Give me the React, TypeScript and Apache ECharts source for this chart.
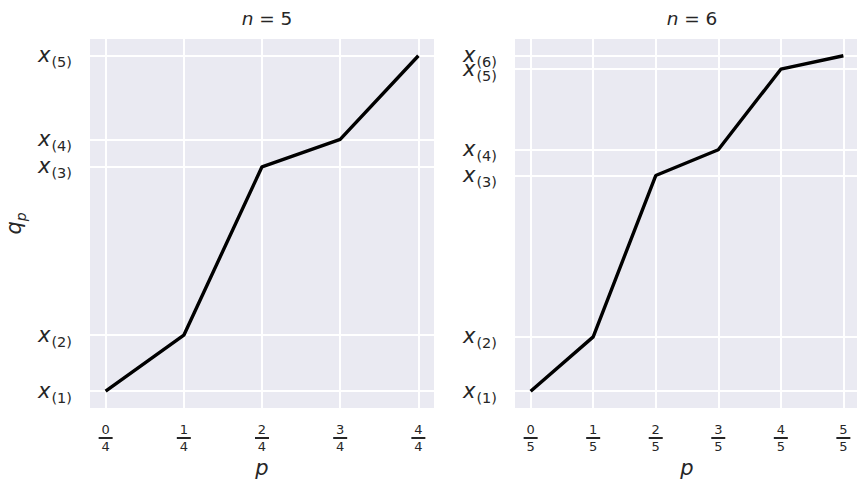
import React, { useEffect, useRef } from "react";
import * as echarts from "echarts";

// Left panel (n = 5): sorted sample values (arbitrary units)
const leftP = [0, 0.25, 0.5, 0.75, 1];
const leftQ = [0, 1.67, 6.69, 7.51, 10];
// Right panel (n = 6)
const rightP = [0, 0.2, 0.4, 0.6, 0.8, 1];
const rightQ = [0, 1.62, 6.43, 7.2, 9.6, 10];

const leftTitle = "5";
const rightTitle = "6";

const FONT = "DejaVu Sans";
const TXT = "#262626";
const BG = "#EAEAF2";

function yRich() {
  return {
    x: { fontFamily: FONT, fontStyle: "italic", fontSize: 21, color: TXT, verticalAlign: "bottom", lineHeight: 20 },
    s: { fontFamily: FONT, fontSize: 14.5, color: TXT, verticalAlign: "bottom", lineHeight: 14, padding: [0, 0, -4, 1] },
  };
}

function xRich() {
  return {
    n: { fontFamily: FONT, fontSize: 13, color: TXT, lineHeight: 13, align: "center" },
    b: { width: 14, height: 2, backgroundColor: TXT, fontSize: 1, lineHeight: 4, align: "center" },
    d: { fontFamily: FONT, fontSize: 13, color: TXT, lineHeight: 13, align: "center" },
  };
}

function makeXAxis(idx: number, ps: number[]) {
  const N = ps.length - 1;
  return {
    type: "value",
    gridIndex: idx,
    min: -0.05,
    max: 1.05,
    axisLine: { show: false },
    axisTick: { show: false, customValues: ps },
    splitLine: { show: true, lineStyle: { color: "#ffffff", width: 2 } },
    axisLabel: {
      customValues: ps,
      margin: 15,
      hideOverlap: false,
      showMinLabel: true,
      showMaxLabel: true,
      formatter: (v: number) => `{n|${Math.round(v * N)}}\n{b| }\n{d|${N}}`,
      rich: xRich(),
    },
    name: "p",
    nameLocation: "middle",
    nameGap: 48,
    nameTextStyle: { fontFamily: FONT, fontStyle: "italic", fontSize: 21, color: TXT },
  };
}

function labelFor(qs: number[], v: number) {
  let i = 0;
  let best = Infinity;
  qs.forEach((q, k) => {
    const d = Math.abs(q - v);
    if (d < best) { best = d; i = k; }
  });
  return `{x|x}{s|(${i + 1})}`;
}

function makeYAxis(idx: number, qs: number[], shown: number[], withName: boolean, grid: boolean) {
  return {
    type: "value",
    gridIndex: idx,
    min: -0.5,
    max: 10.5,
    position: "left",
    axisLine: { show: false },
    axisTick: { show: false, customValues: grid ? qs : shown },
    splitLine: { show: grid, lineStyle: { color: "#ffffff", width: 2 } },
    axisLabel: {
      customValues: shown,
      margin: 18,
      hideOverlap: false,
      showMinLabel: true,
      showMaxLabel: true,
      formatter: (v: number) => labelFor(qs, v),
      rich: yRich(),
    },
    name: withName ? "{q|q}{s|p}" : "",
    nameLocation: "middle",
    nameGap: 66,
    nameTextStyle: {
      rich: {
        q: { fontFamily: FONT, fontStyle: "italic", fontSize: 21, color: TXT, verticalAlign: "bottom", lineHeight: 22 },
        s: { fontFamily: FONT, fontStyle: "italic", fontSize: 14, color: TXT, verticalAlign: "bottom", lineHeight: 14, padding: [0, 0, -4, 0] },
      },
    },
  };
}

export default function App() {
  const ref = useRef<HTMLDivElement>(null);
  useEffect(() => {
    document.body.style.margin = "0";
    if (!ref.current) return;
    const chart = echarts.init(ref.current, null, { renderer: "svg" });
    const titleRich = {
      i: { fontFamily: FONT, fontStyle: "italic", fontWeight: "normal", fontSize: 18.5, color: TXT },
      r: { fontFamily: FONT, fontWeight: "normal", fontSize: 18.5, color: TXT },
    };
    // right panel: the x(5) label is drawn on a second, overlaid axis so the
    // overlapping x(5)/x(6) labels are both kept, as in the reference
    const rightMain = rightQ.filter((_, i) => i !== 4);
    const rightExtra = [rightQ[4]];
    chart.setOption({
      animation: false,
      backgroundColor: "#ffffff",
      title: [
        { text: `{i|n}{r| = ${leftTitle}}`, left: 262, top: 4, textAlign: "center", textStyle: { fontWeight: "normal", rich: titleRich } },
        { text: `{i|n}{r| = ${rightTitle}}`, left: 687, top: 4, textAlign: "center", textStyle: { fontWeight: "normal", rich: titleRich } },
      ],
      grid: [
        { left: 90, top: 39, width: 344, height: 369, show: true, backgroundColor: BG, borderWidth: 0, outerBoundsMode: "none", containLabel: false },
        { left: 515, top: 39, width: 344, height: 369, show: true, backgroundColor: BG, borderWidth: 0, outerBoundsMode: "none", containLabel: false },
      ],
      xAxis: [makeXAxis(0, leftP), makeXAxis(1, rightP)],
      yAxis: [
        makeYAxis(0, leftQ, leftQ, true, true),
        makeYAxis(1, rightQ, rightMain, false, true),
        { ...makeYAxis(1, rightQ, rightExtra, false, false), offset: 0 },
      ],
      series: [
        {
          type: "line",
          xAxisIndex: 0,
          yAxisIndex: 0,
          data: leftP.map((p, i) => [p, leftQ[i]]),
          showSymbol: false,
          lineStyle: { color: "#000000", width: 3.4 },
        },
        {
          type: "line",
          xAxisIndex: 1,
          yAxisIndex: 1,
          data: rightP.map((p, i) => [p, rightQ[i]]),
          showSymbol: false,
          lineStyle: { color: "#000000", width: 3.4 },
        },
      ],
    });
    return () => chart.dispose();
  }, []);
  return <div ref={ref} style={{ width: 857, height: 480 }} />;
}
